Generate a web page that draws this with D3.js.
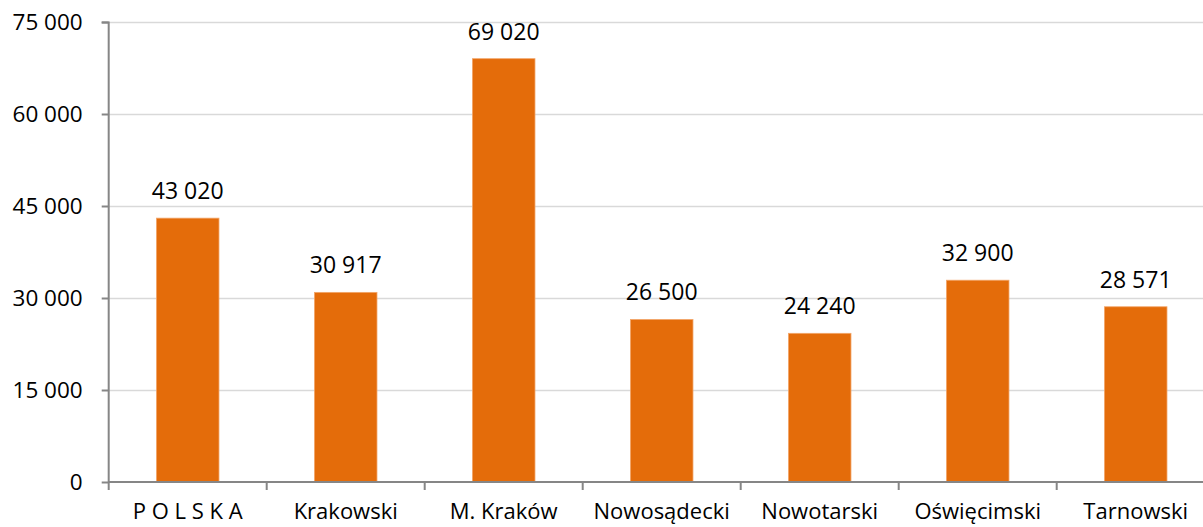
<!DOCTYPE html>
<html lang="pl">
<head>
<meta charset="UTF-8">
<title>Wykres</title>
<script src="https://cdn.jsdelivr.net/npm/d3@7/dist/d3.min.js"></script>
<style>
  body { margin: 0; background: #fff; overflow: hidden; }
  text { font-family: "Open Sans", "Noto Sans", sans-serif; fill: #000; }
</style>
</head>
<body>
<svg width="1203" height="527"></svg>
<script>
// dane
var categories = ['P O L S K A', 'Krakowski', 'M. Kraków', 'Nowosądecki', 'Nowotarski', 'Oświęcimski', 'Tarnowski'];
var values = [43020, 30917, 69020, 26500, 24240, 32900, 28571];
var yTicks = [0, 15000, 30000, 45000, 60000, 75000];

var svg = d3.select('svg');
var mLeft = 108.7, mTop = 22, plotW = 1106, plotH = 460;

var fmt = function(d){ return d3.format(',')(d).replace(/,/g, ' '); };

var x = d3.scaleBand().domain(categories).range([0, plotW]).paddingInner(0.604).paddingOuter(0.302);
var y = d3.scaleLinear().domain([0, 75000]).range([plotH, 0]);

var g = svg.append('g').attr('transform', 'translate(' + mLeft + ',' + mTop + ')');

// linie siatki
g.selectAll('.grid').data(yTicks.slice(1)).enter().append('line')
  .attr('x1', 0).attr('x2', plotW)
  .attr('y1', function(d){ return Math.round(y(d)) + 0.5; })
  .attr('y2', function(d){ return Math.round(y(d)) + 0.5; })
  .attr('stroke', '#d9d9d9').attr('stroke-width', 1.5);

// słupki
g.selectAll('.bar').data(values).enter().append('rect')
  .attr('x', function(d, i){ return x(categories[i]); })
  .attr('y', function(d){ return y(d); })
  .attr('width', x.bandwidth())
  .attr('height', function(d){ return plotH - y(d); })
  .attr('fill', '#e46c0a')
  .attr('stroke', '#f3a66a').attr('stroke-width', 0.8);

// etykiety wartości
g.selectAll('.lbl').data(values).enter().append('text')
  .attr('x', function(d, i){ return x(categories[i]) + x.bandwidth() / 2; })
  .attr('y', function(d){ return y(d) - 19; })
  .attr('text-anchor', 'middle')
  .style('font-size', '23px')
  .text(fmt);

// oś Y
var yAxis = d3.axisLeft(y).tickValues(yTicks).tickSize(7).tickPadding(19).tickFormat(fmt);
var ya = g.append('g').call(yAxis);
ya.select('.domain').attr('stroke', '#868686').attr('stroke-width', 2).attr('d', 'M-7,0.5H0V' + plotH);
ya.selectAll('.tick line').attr('stroke', '#868686').attr('stroke-width', 2);
ya.selectAll('.tick text').style('font-size', '22.5px').attr('fill', '#000');

// oś X
var xa = g.append('g').attr('transform', 'translate(0,' + plotH + ')');
xa.append('line').attr('x1', 0).attr('x2', plotW).attr('stroke', '#868686').attr('stroke-width', 2);
var xTickPos = d3.range(categories.length + 1).map(function(i){ return i * x.step(); });
xa.selectAll('.xt').data(xTickPos).enter().append('line')
  .attr('x1', function(d){ return d; }).attr('x2', function(d){ return d; })
  .attr('y1', 0).attr('y2', 8)
  .attr('stroke', '#868686').attr('stroke-width', 2);
xa.selectAll('.xl').data(categories).enter().append('text')
  .attr('x', function(d){ return x(d) + x.bandwidth() / 2; })
  .attr('y', 37)
  .attr('text-anchor', 'middle')
  .style('font-size', '22px')
  .text(function(d){ return d; });
</script>
</body>
</html>
